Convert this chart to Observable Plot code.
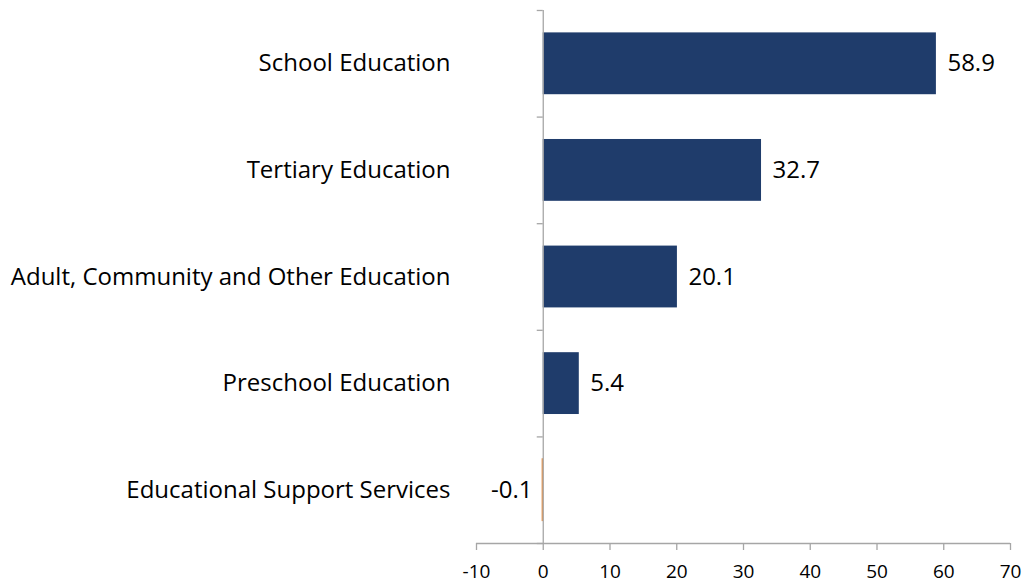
<!DOCTYPE html>
<html>
<head>
<meta charset="utf-8">
<script src="https://cdn.jsdelivr.net/npm/d3@7"></script>
<script src="https://cdn.jsdelivr.net/npm/@observablehq/plot@0.6"></script>
<style>
  html, body { margin: 0; padding: 0; background: #fff; }
  #chart svg { display: block; }
</style>
</head>
<body>
<div id="chart"></div>
<script>
const categories = [
  "School Education",
  "Tertiary Education",
  "Adult, Community and Other Education",
  "Preschool Education",
  "Educational Support Services"
];
const values = [58.9, 32.7, 20.1, 5.4, -0.1];
const xTicks = [-10, 0, 10, 20, 30, 40, 50, 60, 70];

const data = categories.map((c, i) => ({ category: c, value: values[i], idx: i }));
const boundaries = d3.range(categories.length + 1);

const fontFamily = "'Open Sans', sans-serif";
const axisColor = "#a6a6a6";

const chart = Plot.plot({
  width: 1025,
  height: 585,
  marginTop: 10,
  marginBottom: 42,
  marginLeft: 476,
  marginRight: 15,
  style: { fontFamily, background: "#fff" },
  x: { type: "linear", domain: [-10, 70], label: null },
  y: { type: "linear", domain: [0, categories.length], reverse: true, axis: null, label: null },
  marks: [
    Plot.rectX(data, {
      x1: () => 0, x2: "value",
      y1: d => d.idx + 0.21, y2: d => d.idx + 0.79,
      fill: d => d.value < 0 ? "#e8964f" : "#1f3c6b",
      stroke: d => d.value < 0 ? "#e8964f" : "none",
      strokeWidth: 1
    }),
    Plot.ruleX([0], { y1: 0, y2: categories.length, stroke: axisColor, strokeWidth: 1.3 }),
    Plot.ruleY(boundaries, { y: d => d, x1: () => -0.9, x2: () => 0, stroke: axisColor, strokeWidth: 1.3 }),
    Plot.ruleY([categories.length], { x1: () => -10, x2: () => 70, stroke: axisColor, strokeWidth: 1.3 }),
    Plot.axisX({
      ticks: xTicks,
      tickSize: 7,
      tickPadding: 14,
      fontSize: 19,
      stroke: axisColor,
      strokeWidth: 1.3,
      color: "#000",
      label: null,
      tickFormat: d => String(d)
    }),
    Plot.text(data, {
      y: d => d.idx + 0.5,
      frameAnchor: "left",
      dx: -26,
      text: "category",
      textAnchor: "end",
      fontSize: 24,
      fill: "#000"
    }),
    Plot.text(data.filter(d => d.value >= 0), {
      x: "value",
      y: d => d.idx + 0.5,
      text: d => d.value.toFixed(1),
      textAnchor: "start",
      dx: 11,
      fontSize: 24,
      fill: "#000"
    }),
    Plot.text(data.filter(d => d.value < 0), {
      x: "value",
      y: d => d.idx + 0.5,
      text: d => d.value.toFixed(1),
      textAnchor: "end",
      dx: -10,
      fontSize: 24,
      fill: "#000"
    })
  ]
});

document.getElementById("chart").appendChild(chart);
</script>
</body>
</html>
